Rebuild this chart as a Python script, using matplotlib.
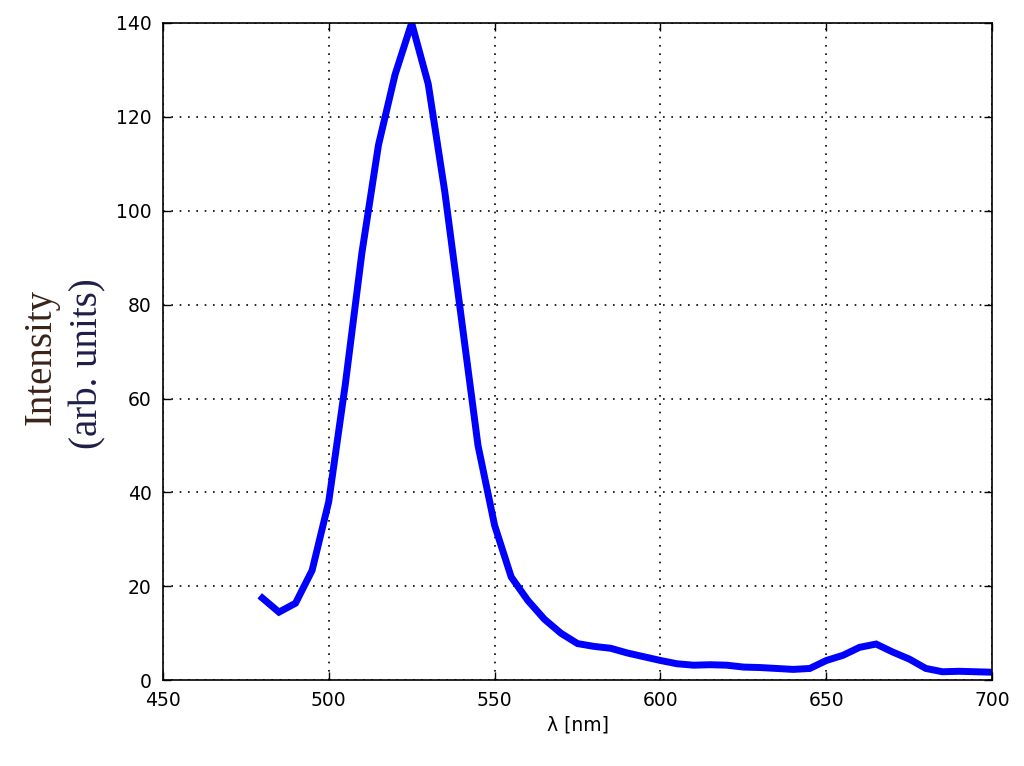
import matplotlib
matplotlib.use("Agg")
import matplotlib.pyplot as plt

# emission spectrum
wavelength = [480, 485, 490, 495, 500, 505, 510, 515, 520, 525, 530, 535, 540,
              545, 550, 555, 560, 565, 570, 575, 580, 585, 590, 595, 600, 605,
              610, 615, 620, 625, 630, 635, 640, 645, 650, 655, 660, 665, 670,
              675, 680, 685, 690, 695, 700]
intensity = [17.5, 14.5, 16.4, 23.4, 38, 63, 91, 114, 129, 140, 127, 104, 77,
             50, 33, 22, 17, 13, 10, 7.8, 7.2, 6.8, 5.8, 5.0, 4.2, 3.5,
             3.2, 3.3, 3.2, 2.8, 2.7, 2.5, 2.3, 2.5, 4.2, 5.3, 7.0, 7.7, 6.0,
             4.5, 2.5, 1.8, 1.9, 1.8, 1.7]

xticks = [450, 500, 550, 600, 650, 700]
yticks = [0, 20, 40, 60, 80, 100, 120, 140]

fig = plt.figure(figsize=(10.24, 7.66), dpi=100)
ax = fig.add_axes([0.159, 0.112, 0.810, 0.858])

ax.plot(wavelength, intensity, color="#0000ff", lw=5, solid_joinstyle="miter")

ax.set_xlim(450, 700)
ax.set_ylim(0, 140)
ax.set_xticks(xticks)
ax.set_yticks(yticks)
ax.tick_params(direction="in", length=6, width=1, labelsize=13.5,
               top=True, right=True, pad=8)
for s in ax.spines.values():
    s.set_linewidth(1.2)
ax.grid(True, color="black", linestyle=(0, (1, 4)), linewidth=1.2)

ax.set_xlabel("λ [nm]", fontsize=13.5, labelpad=4)

fig.text(0.040, 0.534, "Intensity", rotation=90, ha="center", va="center",
         family="Liberation Serif", fontsize=28, color="#3a2418")
fig.text(0.086, 0.525, "(arb. units)", rotation=90, ha="center", va="center",
         family="Liberation Serif", fontsize=28, color="#1e1e48")

fig.savefig("out.png", dpi=100)
plt.close(fig)
